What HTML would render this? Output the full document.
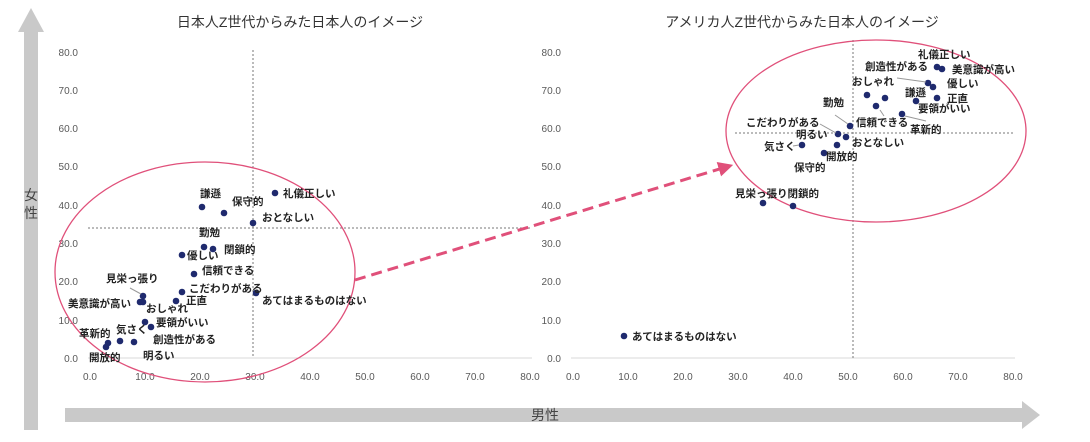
<!DOCTYPE html>
<html><head><meta charset="utf-8"><style>
body{margin:0;background:#fff;}
svg{display:block;font-family:"Liberation Sans","Noto Sans CJK JP",sans-serif;}
.t{font-size:10px;fill:#595959;}
.l{font-size:10.5px;fill:#222;font-weight:bold;}
.d{fill:#1f2a6e;}
</style></head><body>
<svg width="1090" height="442" viewBox="0 0 1090 442">
<defs><marker id="ah" markerWidth="5" markerHeight="5" refX="2.5" refY="2.5" orient="auto"><path d="M0,0L5,2.5L0,5z" fill="#e0507a"/></marker></defs>
<rect x="24" y="30" width="14" height="400" fill="#c9c9c9"/>
<polygon points="18,32 31,8 44,32" fill="#c9c9c9"/>
<rect x="65" y="408" width="960" height="14" fill="#c9c9c9"/>
<polygon points="1022,401 1040,415 1022,429" fill="#c9c9c9"/>
<text x="31" y="200" font-size="14" fill="#444" text-anchor="middle">女</text>
<text x="31" y="218" font-size="14" fill="#444" text-anchor="middle">性</text>
<text x="545" y="420" font-size="14" fill="#444" text-anchor="middle">男性</text>
<text x="300" y="27" font-size="14" fill="#333" text-anchor="middle">日本人Z世代からみた日本人のイメージ</text>
<text x="802" y="27" font-size="14" fill="#333" text-anchor="middle">アメリカ人Z世代からみた日本人のイメージ</text>
<g class="t" text-anchor="end">
<text x="78" y="362">0.0</text><text x="78" y="324">10.0</text><text x="78" y="285">20.0</text><text x="78" y="247">30.0</text><text x="78" y="209">40.0</text><text x="78" y="170">50.0</text><text x="78" y="132">60.0</text><text x="78" y="94">70.0</text><text x="78" y="56">80.0</text>
<text x="561" y="362">0.0</text><text x="561" y="324">10.0</text><text x="561" y="285">20.0</text><text x="561" y="247">30.0</text><text x="561" y="209">40.0</text><text x="561" y="170">50.0</text><text x="561" y="132">60.0</text><text x="561" y="94">70.0</text><text x="561" y="56">80.0</text>
</g>
<g class="t" text-anchor="middle">
<text x="90" y="380">0.0</text><text x="145" y="380">10.0</text><text x="200" y="380">20.0</text><text x="255" y="380">30.0</text><text x="310" y="380">40.0</text><text x="365" y="380">50.0</text><text x="420" y="380">60.0</text><text x="475" y="380">70.0</text><text x="530" y="380">80.0</text>
<text x="573" y="380">0.0</text><text x="628" y="380">10.0</text><text x="683" y="380">20.0</text><text x="738" y="380">30.0</text><text x="793" y="380">40.0</text><text x="848" y="380">50.0</text><text x="903" y="380">60.0</text><text x="958" y="380">70.0</text><text x="1013" y="380">80.0</text>
</g>
<line x1="88" y1="358" x2="532" y2="358" stroke="#d9d9d9"/>
<line x1="571" y1="358" x2="1015" y2="358" stroke="#d9d9d9"/>
<g stroke="#777" stroke-dasharray="2,2" stroke-width="1">
<line x1="253" y1="50" x2="253" y2="358"/><line x1="88" y1="228" x2="532" y2="228"/>
<line x1="853" y1="40" x2="853" y2="358"/><line x1="735" y1="133" x2="1015" y2="133"/>
</g>
<ellipse cx="205" cy="272" rx="150" ry="110" fill="none" stroke="#e0507a" stroke-width="1.3"/>
<ellipse cx="876" cy="131" rx="150" ry="91" fill="none" stroke="#e0507a" stroke-width="1.3"/>
<line x1="355" y1="280" x2="726" y2="167" stroke="#e0507a" stroke-width="3" stroke-dasharray="11,6" marker-end="url(#ah)"/>
<g class="d">
<circle cx="275" cy="193" r="3.3"/><circle cx="202" cy="207" r="3.3"/><circle cx="224" cy="213" r="3.3"/><circle cx="253" cy="223" r="3.3"/>
<circle cx="204" cy="247" r="3.3"/><circle cx="213" cy="249" r="3.3"/><circle cx="182" cy="255" r="3.3"/><circle cx="194" cy="274" r="3.3"/>
<circle cx="143" cy="296" r="3.3"/><circle cx="182" cy="292" r="3.3"/><circle cx="176" cy="301" r="3.3"/><circle cx="140" cy="302" r="3.3"/><circle cx="143" cy="302" r="3.3"/>
<circle cx="256" cy="293" r="3.3"/><circle cx="145" cy="322" r="3.3"/><circle cx="151" cy="327" r="3.3"/><circle cx="120" cy="341" r="3.3"/><circle cx="134" cy="342" r="3.3"/><circle cx="108" cy="343" r="3.3"/><circle cx="106" cy="347" r="3.3"/>
</g>
<line x1="130" y1="288" x2="141" y2="294" stroke="#999"/>
<g class="l">
<text x="283" y="197">礼儀正しい</text><text x="200" y="197">謙遜</text><text x="232" y="205">保守的</text><text x="262" y="221">おとなしい</text>
<text x="199" y="236">勤勉</text><text x="224" y="253">閉鎖的</text><text x="187" y="259">優しい</text><text x="202" y="274">信頼できる</text>
<text x="106" y="282">見栄っ張り</text><text x="189" y="292">こだわりがある</text><text x="186" y="304">正直</text><text x="68" y="307">美意識が高い</text><text x="146" y="312">おしゃれ</text>
<text x="262" y="304">あてはまるものはない</text><text x="156" y="326">要領がいい</text><text x="116" y="333">気さく</text><text x="79" y="337">革新的</text><text x="153" y="343">創造性がある</text>
<text x="89" y="361">開放的</text><text x="143" y="359">明るい</text>
</g>
<g class="d">
<circle cx="937" cy="67" r="3.3"/><circle cx="942" cy="69" r="3.3"/><circle cx="928" cy="83" r="3.3"/><circle cx="933" cy="87" r="3.3"/>
<circle cx="867" cy="95" r="3.3"/><circle cx="885" cy="98" r="3.3"/><circle cx="916" cy="101" r="3.3"/><circle cx="937" cy="98" r="3.3"/>
<circle cx="876" cy="106" r="3.3"/><circle cx="902" cy="114" r="3.3"/><circle cx="850" cy="126" r="3.3"/><circle cx="838" cy="134" r="3.3"/><circle cx="846" cy="137" r="3.3"/>
<circle cx="837" cy="145" r="3.3"/><circle cx="802" cy="145" r="3.3"/><circle cx="824" cy="153" r="3.3"/><circle cx="763" cy="203" r="3.3"/><circle cx="793" cy="206" r="3.3"/><circle cx="624" cy="336" r="3.3"/>
</g>
<g stroke="#999"><line x1="897" y1="78" x2="926" y2="82"/><line x1="835" y1="115" x2="848" y2="124"/><line x1="820" y1="124" x2="836" y2="133"/><line x1="905" y1="116" x2="926" y2="121"/><line x1="880" y1="110" x2="884" y2="116"/><line x1="793" y1="146" x2="799" y2="145"/></g>
<g class="l">
<text x="918" y="58">礼儀正しい</text><text x="865" y="70">創造性がある</text><text x="952" y="73">美意識が高い</text><text x="852" y="85">おしゃれ</text><text x="947" y="87">優しい</text>
<text x="905" y="96">謙遜</text><text x="947" y="102">正直</text><text x="918" y="112">要領がいい</text><text x="910" y="133">革新的</text>
<text x="823" y="106">勤勉</text><text x="856" y="126">信頼できる</text><text x="746" y="126">こだわりがある</text><text x="796" y="138">明るい</text><text x="852" y="146">おとなしい</text>
<text x="764" y="150">気さく</text><text x="826" y="160">開放的</text><text x="794" y="171">保守的</text><text x="735" y="197">見栄っ張り閉鎖的</text><text x="632" y="340">あてはまるものはない</text>
</g>
</svg>
</body></html>
